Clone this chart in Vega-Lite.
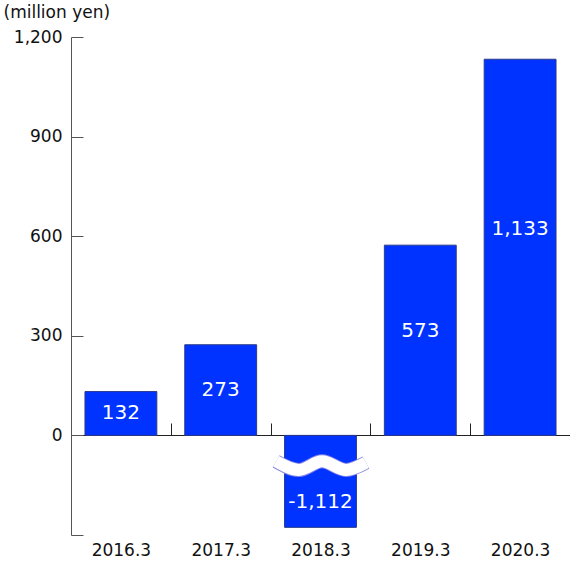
{
  "$schema": "https://vega.github.io/schema/vega-lite/v6.json",
  "description": "Net income by fiscal year, million yen; the 2018.3 bar is drawn truncated with a break mark.",
  "width": 499,
  "height": 498,
  "autosize": "none",
  "padding": {"left": 71, "top": 37, "right": 0, "bottom": 34},
  "config": {"view": {"stroke": null}, "font": "DejaVu Sans"},
  "datasets": {
    "income": [
      {"year": "2016.3", "value": 132},
      {"year": "2017.3", "value": 273},
      {"year": "2018.3", "value": -1112},
      {"year": "2019.3", "value": 573},
      {"year": "2020.3", "value": 1133}
    ],
    "wave": [
      {"wx": 2.055, "wy": -78},
      {"wx": 2.285, "wy": -104},
      {"wx": 2.515, "wy": -78},
      {"wx": 2.755, "wy": -104},
      {"wx": 2.955, "wy": -82}
    ]
  },
  "layer": [
    {
      "data": {"name": "income"},
      "transform": [
        {"calculate": "max(datum.value, -277)", "as": "bar"},
        {"calculate": "datum.value < 0 ? -200 : datum.value > 400 ? datum.value * 0.55 : datum.value / 2", "as": "labelY"},
        {"calculate": "replace(format(datum.value, ','), '\u2212', '-')", "as": "label"}
      ],
      "encoding": {
        "x": {
          "field": "year",
          "type": "ordinal",
          "scale": {"paddingInner": 0, "paddingOuter": 0},
          "axis": {
            "orient": "bottom",
            "offset": -100,
            "title": null,
            "tickBand": "extent",
            "tickSize": -12,
            "tickColor": "#222",
            "domainColor": "#222",
            "labelAngle": 0,
            "labelFontSize": 17,
            "labelPadding": 119,
            "labelColor": "#111"
          }
        }
      },
      "layer": [
        {
          "mark": {"type": "bar", "fill": "#0033ff", "stroke": "#2a3a8c", "strokeWidth": 1, "width": {"band": 0.72}},
          "encoding": {
            "y": {
              "field": "bar",
              "type": "quantitative",
              "scale": {"domain": [-300, 1200], "nice": false, "zero": false},
              "axis": {
                "values": [-300, 0, 300, 600, 900, 1200],
                "labelExpr": "datum.value < 0 ? '' : format(datum.value, ',')",
                "tickSize": -12,
                "tickColor": "#555",
                "domainColor": "#555",
                "grid": false,
                "labelFontSize": 17,
                "labelColor": "#111",
                "labelPadding": 21,
                "titleAngle": 0,
                "titleAlign": "left",
                "titleBaseline": "alphabetic",
                "titleX": -68,
                "titleY": -20,
                "titleFontSize": 17,
                "titleFontWeight": "normal",
                "titleColor": "#111"
              },
              "title": "(million yen)"
            }
          }
        },
        {
          "mark": {"type": "text", "color": "white", "fontSize": 20, "baseline": "middle"},
          "encoding": {
            "y": {"field": "labelY", "type": "quantitative", "title": "(million yen)"},
            "text": {"field": "label"}
          }
        }
      ]
    },
    {
      "data": {"name": "wave"},
      "encoding": {
        "x": {"field": "wx", "type": "quantitative", "scale": {"domain": [0, 5], "nice": false, "zero": false}, "axis": null},
        "y": {"field": "wy", "type": "quantitative", "title": "(million yen)"}
      },
      "layer": [
        {"mark": {"type": "line", "interpolate": "monotone", "stroke": "#8a8ae6", "strokeWidth": 14, "strokeCap": "butt"}},
        {"mark": {"type": "line", "interpolate": "monotone", "stroke": "white", "strokeWidth": 12, "strokeCap": "butt"}}
      ]
    }
  ],
  "resolve": {"scale": {"x": "independent"}}
}
